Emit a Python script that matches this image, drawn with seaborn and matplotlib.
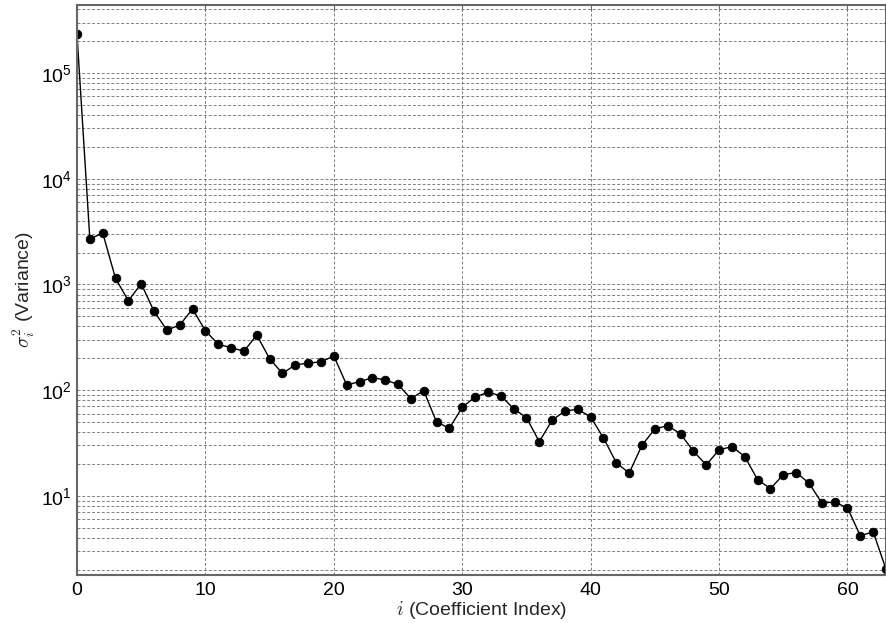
import numpy as np
import pandas as pd
import matplotlib
matplotlib.use("Agg")
import matplotlib.pyplot as plt
import seaborn as sns
from matplotlib.ticker import LogLocator, MultipleLocator, NullFormatter

coef_index = list(range(64))
variance = [
    2.32e5, 2680, 3075, 1140, 700, 1015, 556, 370, 412, 585,
    364, 271, 252, 233, 332, 198, 144, 173, 180, 185,
    210, 112, 120, 131, 125, 113, 83, 98.7, 49.9, 43.5,
    68.8, 86, 95.3, 88.5, 66.7, 54.8, 32.5, 51.9, 63.4, 65.8,
    55.7, 35.2, 20.5, 16.4, 30.1, 42.9, 46.1, 38.5, 26.4, 19.6,
    27.2, 29.2, 23.5, 14.2, 11.7, 15.8, 16.6, 13.2, 8.57, 8.70,
    7.69, 4.18, 4.56, 2.02,
]

df = pd.DataFrame({"i": coef_index, "var": variance})

sns.set_style("white")
plt.rcParams["font.family"] = ["Liberation Sans", "DejaVu Sans"]
plt.rcParams["mathtext.fontset"] = "cm"

fig = plt.figure(figsize=(8.87, 6.23), dpi=100)
ax = fig.add_axes([77/887, 48/623, 809/887, 570/623])

sns.lineplot(data=df, x="i", y="var", ax=ax, color="black", linewidth=1.0,
             marker="o", markersize=6.2, markeredgecolor="black",
             markeredgewidth=0.6, markerfacecolor="black", clip_on=True)

ax.set_yscale("log")
ax.set_xlim(0, 63)
ax.set_ylim(1.78, 4.4e5)
ax.xaxis.set_major_locator(MultipleLocator(10))
ax.yaxis.set_major_locator(LogLocator(base=10, numticks=20))
ax.yaxis.set_minor_locator(LogLocator(base=10, subs=np.arange(2, 10), numticks=20))
ax.yaxis.set_minor_formatter(NullFormatter())

ax.grid(True, which="major", axis="both", color="#808080", linestyle=(0, (3, 2)), linewidth=0.7)
ax.grid(True, which="minor", axis="y", color="#808080", linestyle=(0, (3, 2)), linewidth=0.7)

for s in ax.spines.values():
    s.set_color("#666666")
    s.set_linewidth(1.5)

ax.tick_params(axis="both", which="both", direction="in", top=True, right=True,
               labelsize=14, colors="#666666", labelcolor="black", length=4)
ax.tick_params(axis="both", which="minor", length=2)
ax.tick_params(axis="x", pad=5)

ax.set_xlabel(r"$i$ (Coefficient Index)", fontsize=14, labelpad=0)
ax.set_ylabel(r"$\sigma_i^2$ (Variance)", fontsize=14, labelpad=3)

fig.savefig("out.png", dpi=100, facecolor="white")
